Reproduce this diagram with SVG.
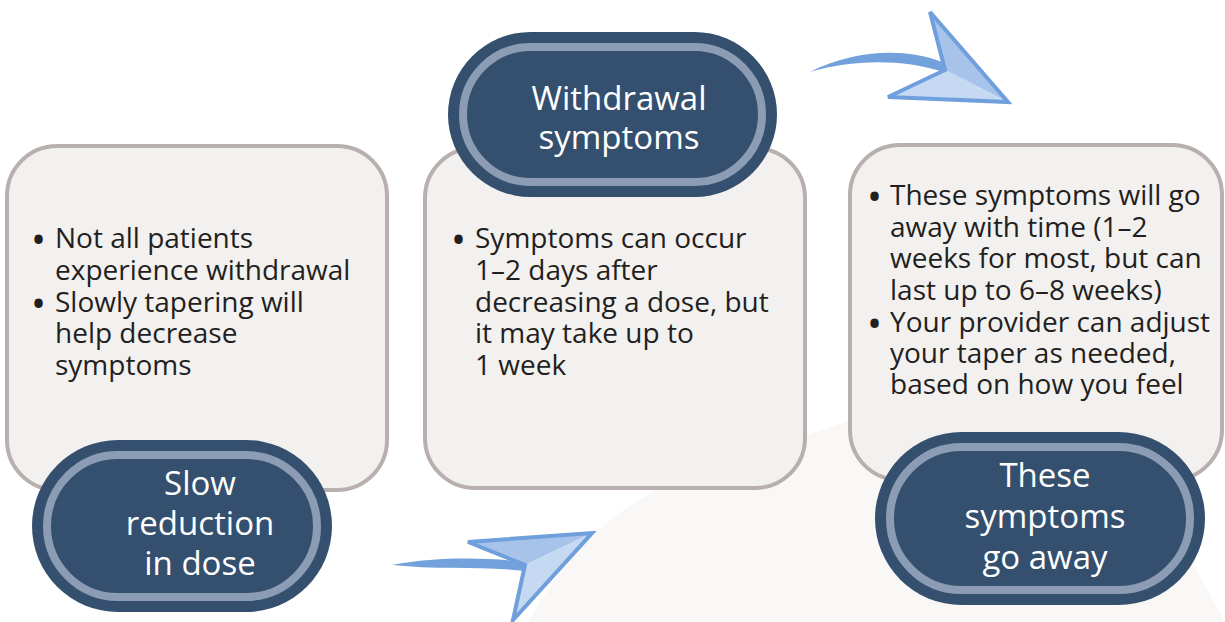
<svg xmlns="http://www.w3.org/2000/svg" width="1225" height="622" viewBox="0 0 1225 622">
<style>
.box{fill:#f3f1ef;stroke:#b8b0ae;stroke-width:4}
.pill{fill:#34506e}
.ring{fill:none;stroke:#8c9cb5;stroke-width:8}
.pt{font-family:"Open Sans","Noto Sans",sans-serif;font-size:33px;fill:#ffffff;text-anchor:middle}
.bt{font-family:"Open Sans","Noto Sans",sans-serif;font-size:28px;fill:#231f20}
.bu{font-size:40px}
.tail{fill:#72a1dc}
.head{stroke:#6f9fdc;stroke-width:4;stroke-linejoin:miter}
.f1{fill:#a7c3ea}
.f2{fill:#c6d9f2}
</style>
<rect width="1225" height="622" fill="#ffffff"/>
<path d="M528,622 C570,550 610,512 665,486 L850,420 L1130,440 L1180,540 L1225,622 Z" fill="#faf8f6"/>
<g id="box1">
<rect class="box" x="7" y="146" width="380" height="344" rx="50"/>
<text class="bt" y="248"><tspan class="bu" x="31" dy="6">•</tspan><tspan x="55" dy="-6">Not all patients</tspan></text>
<text class="bt" x="55" y="280">experience withdrawal</text>
<text class="bt" y="312"><tspan class="bu" x="31" dy="6">•</tspan><tspan x="55" dy="-6">Slowly tapering will</tspan></text>
<text class="bt" x="55" y="343">help decrease</text>
<text class="bt" x="55" y="375">symptoms</text>
</g>
<g id="box2">
<rect class="box" x="425" y="148" width="380" height="340" rx="50"/>
<text class="bt" y="248"><tspan class="bu" x="451" dy="6">•</tspan><tspan x="475" dy="-6">Symptoms can occur</tspan></text>
<text class="bt" x="475" y="280">1–2 days after</text>
<text class="bt" x="475" y="312">decreasing a dose, but</text>
<text class="bt" x="475" y="343">it may take up to</text>
<text class="bt" x="475" y="375">1 week</text>
</g>
<g id="box3">
<rect class="box" x="850" y="145" width="372" height="335" rx="50"/>
<text class="bt" y="205"><tspan class="bu" x="867" dy="6">•</tspan><tspan x="890" dy="-6">These symptoms will go</tspan></text>
<text class="bt" x="890" y="237">away with time (1–2</text>
<text class="bt" x="890" y="268">weeks for most, but can</text>
<text class="bt" x="890" y="300">last up to 6–8 weeks)</text>
<text class="bt" y="332"><tspan class="bu" x="867" dy="6">•</tspan><tspan x="890" dy="-6">Your provider can adjust</tspan></text>
<text class="bt" x="890" y="363">your taper as needed,</text>
<text class="bt" x="890" y="394">based on how you feel</text>
</g>
<g id="pill1">
<rect class="pill" x="32" y="440" width="300" height="172" rx="86"/>
<rect class="ring" x="47" y="455" width="270" height="142" rx="71"/>
<text class="pt" x="200" y="495">Slow</text>
<text class="pt" x="200" y="535">reduction</text>
<text class="pt" x="200" y="575">in dose</text>
</g>
<g id="pill2">
<rect class="pill" x="448" y="32" width="329" height="165" rx="82.5"/>
<rect class="ring" x="463" y="47" width="299" height="135" rx="67.5"/>
<text class="pt" x="619" y="110">Withdrawal</text>
<text class="pt" x="619" y="149">symptoms</text>
</g>
<g id="pill3">
<rect class="pill" x="875" y="432" width="330" height="173" rx="86.5"/>
<rect class="ring" x="890" y="447" width="300" height="143" rx="71.5"/>
<text class="pt" x="1045" y="487">These</text>
<text class="pt" x="1045" y="528">symptoms</text>
<text class="pt" x="1045" y="569">go away</text>
</g>
<g id="connectors">
<g id="arrow1">
<path class="tail" d="M392,565 C440,556 490,558 527,562 L526,571 C480,566 440,570 392,565 Z"/>
<polygon class="f1" points="468,542 592,533 525,565"/>
<polygon class="f2" points="525,565 592,533 513,620"/>
<polygon class="head" fill="none" points="468,542 592,533 513,620 525,565"/>
</g>
<g id="arrow2">
<path class="tail" d="M810,72 C850,52 900,46 942,62 L944,72 C900,58 850,60 810,72 Z"/>
<polygon class="f1" points="930,12 945,70 1008,102"/>
<polygon class="f2" points="945,70 1008,102 888,97"/>
<polygon class="head" fill="none" points="930,12 1008,102 888,97 945,70"/>
</g>
</g>
</svg>
